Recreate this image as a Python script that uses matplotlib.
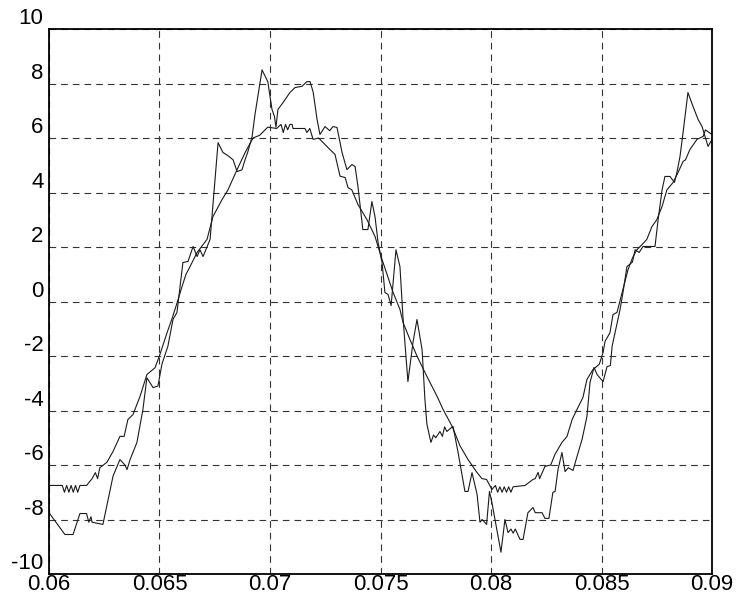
import numpy as np
import matplotlib
matplotlib.use('Agg')
import matplotlib.pyplot as plt

plt.rcParams['font.family'] = ['Liberation Sans', 'DejaVu Sans']

# reference (smoother) waveform
t_ref = [0.0600, 0.0606, 0.0607, 0.0608, 0.0609, 0.0610, 0.0611, 0.0612, 0.0613, 0.0614,
         0.0617, 0.06195, 0.0621, 0.0622, 0.0623, 0.06262, 0.0629, 0.06321, 0.0634, 0.06357,
         0.0638, 0.06412, 0.06443, 0.0648, 0.06502, 0.06534, 0.0656, 0.06584, 0.06602, 0.0662,
         0.06638, 0.0667, 0.06715, 0.06742, 0.06783, 0.0681, 0.06851, 0.06887, 0.06923, 0.06953,
         0.0699, 0.0703, 0.0705, 0.0706, 0.0707, 0.0708, 0.0709, 0.0710, 0.07104, 0.07158,
         0.07167, 0.0718, 0.07195, 0.0722, 0.07271, 0.07294, 0.07317, 0.0734, 0.07353, 0.0737,
         0.07398, 0.07439, 0.07475, 0.07507, 0.07557, 0.07588, 0.07602, 0.07633, 0.07665, 0.0771,
         0.07756, 0.07783, 0.07824, 0.0786, 0.07896, 0.07937, 0.07959, 0.0798, 0.08004, 0.0802,
         0.0803, 0.0804, 0.0805, 0.0806, 0.0807, 0.0808, 0.0809, 0.0810, 0.08154, 0.0819,
         0.0820, 0.08213, 0.0822, 0.08244, 0.0827, 0.0829, 0.08321, 0.08344, 0.08367, 0.08389,
         0.08416, 0.08434, 0.08461, 0.0849, 0.08507, 0.08516, 0.08538, 0.08552, 0.0857, 0.08597,
         0.0862, 0.0864, 0.0866, 0.0868, 0.08705, 0.08728, 0.0875, 0.08774, 0.08796, 0.08824,
         0.08846, 0.08869, 0.0888, 0.0890, 0.08932, 0.0896, 0.0897, 0.0900]
v_ref = [-6.75, -6.75, -7.0, -6.75, -7.0, -6.75, -7.0, -6.75, -7.0, -6.75,
         -6.75, -6.5, -6.28, -6.5, -6.1, -5.9, -5.5, -4.95, -4.95, -4.33,
         -4.15, -3.48, -2.68, -2.43, -1.94, -1.15, -0.55, 0.07, 0.55, 1.0,
         1.28, 1.8, 2.28, 3.12, 3.74, 4.1, 4.84, 5.46, 6.0, 6.1,
         6.4, 6.35, 6.5, 6.2, 6.5, 6.3, 6.5, 6.5, 6.35, 6.35,
         6.2, 6.35, 5.95, 6.0, 5.58, 5.4, 4.6, 4.55, 4.18, 4.1,
         3.56, 3.0, 2.39, 1.54, 0.33, -0.29, -0.77, -1.39, -2.0, -2.75,
         -3.48, -3.96, -4.58, -5.3, -5.8, -6.28, -6.5, -6.53, -6.9, -6.75,
         -7.0, -6.8, -7.0, -6.8, -7.0, -6.8, -7.0, -6.8, -6.75, -6.53,
         -6.5, -6.27, -6.5, -6.05, -6.0, -5.6, -5.17, -4.95, -4.33, -3.96,
         -3.52, -2.86, -2.5, -2.3, -1.87, -1.46, -1.15, -0.48, -0.4, 0.44,
         1.17, 1.6, 1.9, 2.06, 2.28, 2.75, 3.0, 3.49, 4.1, 4.37,
         4.73, 5.14, 5.2, 5.58, 5.95, 6.06, 6.3, 6.13]

# measured (noisy) waveform
t_meas = [0.0600, 0.06072, 0.06109, 0.0614, 0.0617, 0.0618, 0.0619, 0.06195, 0.06244, 0.0629,
          0.06321, 0.06344, 0.06353, 0.06367, 0.06398, 0.06425, 0.06443, 0.06471, 0.06493, 0.06511,
          0.06538, 0.06561, 0.06579, 0.06606, 0.06629, 0.06652, 0.0667, 0.06683, 0.06697, 0.06729,
          0.06765, 0.06787, 0.0681, 0.06833, 0.06851, 0.06873, 0.06887, 0.0690, 0.06919, 0.06932,
          0.06964, 0.0699, 0.07009, 0.0702, 0.07027, 0.07036, 0.07059, 0.0709, 0.07113, 0.07145,
          0.07167, 0.07181, 0.07195, 0.07213, 0.07226, 0.07249, 0.0727, 0.07285, 0.07303, 0.07326,
          0.07348, 0.07371, 0.07385, 0.07398, 0.0742, 0.07443, 0.07461, 0.07475, 0.07489, 0.07507,
          0.0752, 0.07534, 0.07548, 0.0757, 0.07588, 0.07602, 0.07624, 0.07647, 0.07665, 0.07688,
          0.07701, 0.0771, 0.07728, 0.0774, 0.0775, 0.07769, 0.0778, 0.0779, 0.0780, 0.07828,
          0.07851, 0.07882, 0.07896, 0.07914, 0.07937, 0.0795, 0.0796, 0.0798, 0.07993, 0.08004,
          0.08018, 0.08045, 0.08063, 0.08077, 0.0809, 0.0810, 0.0811, 0.08131, 0.08145, 0.08167,
          0.0819, 0.0820, 0.08231, 0.08244, 0.08262, 0.0828, 0.0829, 0.08303, 0.08321, 0.08335,
          0.0835, 0.08371, 0.08389, 0.08412, 0.08434, 0.08448, 0.08466, 0.0848, 0.08507, 0.08525,
          0.0854, 0.08548, 0.08561, 0.08584, 0.08597, 0.08615, 0.0864, 0.08652, 0.0867, 0.08688,
          0.08742, 0.08756, 0.08774, 0.08787, 0.0881, 0.0883, 0.08842, 0.08855, 0.08869, 0.08891,
          0.08914, 0.08937, 0.08955, 0.08982, 0.0900]
v_meas = [-7.75, -8.55, -8.55, -7.78, -7.78, -8.1, -7.9, -8.1, -8.18, -6.4,
          -5.8, -6.0, -6.17, -5.8, -5.17, -3.96, -2.8, -3.16, -3.1, -2.3,
          -1.64, -0.66, -0.4, 1.43, 1.47, 2.02, 1.65, 1.9, 1.65, 2.28,
          5.83, 5.47, 5.35, 5.2, 4.77, 4.83, 5.2, 5.5, 6.05, 6.86,
          8.5, 8.07, 7.05, 6.8, 6.4, 7.05, 7.3, 7.67, 7.85, 7.9,
          8.07, 8.07, 7.7, 6.68, 6.13, 6.42, 6.27, 6.42, 6.39, 5.47,
          4.84, 5.03, 4.95, 4.22, 2.64, 2.64, 3.67, 3.12, 2.17, 1.43,
          0.33, 0.26, -0.15, 1.9, 1.28, -0.62, -2.94, -1.5, -0.66, -1.76,
          -3.6, -4.51, -5.17, -4.9, -5.0, -4.77, -4.95, -4.6, -4.77, -4.58,
          -5.54, -6.97, -6.97, -6.28, -7.08, -8.1, -8.0, -8.18, -6.97, -7.38,
          -8.0, -9.2, -8.0, -8.48, -8.35, -8.5, -8.35, -8.73, -8.73, -7.75,
          -7.56, -7.75, -7.75, -7.96, -7.96, -7.0, -6.97, -6.17, -5.54, -6.24,
          -6.1, -6.2, -5.69, -5.06, -4.22, -2.97, -2.42, -2.68, -2.94, -2.39,
          -2.35, -1.64, -1.15, -0.29, 0.33, 1.28, 1.45, 1.9, 1.8, 2.02,
          2.02, 3.0, 4.1, 4.59, 4.59, 4.37, 4.77, 5.32, 6.2, 7.67,
          7.16, 6.68, 6.42, 5.69, 5.95]

x_ticks = [0.06, 0.065, 0.07, 0.075, 0.08, 0.085, 0.09]
x_labels = ['0.06', '0.065', '0.07', '0.075', '0.08', '0.085', '0.09']
y_ticks = list(range(-10, 11, 2))

fig = plt.figure(figsize=(7.4, 5.96), dpi=100)
ax = fig.add_axes([0.0662, 0.0369, 0.896, 0.9144])

ax.plot(t_ref, v_ref, color='#1a1a1a', linewidth=0.8)
ax.plot(t_meas, v_meas, color='#1a1a1a', linewidth=0.8)

ax.set_xlim(0.06, 0.09)
ax.set_ylim(-10, 10)
ax.set_xticks(x_ticks)
ax.set_xticklabels(x_labels)
ax.set_yticks(y_ticks)
ax.set_yticklabels([str(v) for v in y_ticks], va='bottom')

ax.grid(True, color='#333333', linestyle=(0, (6, 4.5)), linewidth=0.8)
ax.tick_params(length=0, labelsize=16)
ax.tick_params(axis='x', pad=0)
ax.tick_params(axis='y', pad=4)
for s in ax.spines.values():
    s.set_linewidth(1.3)

fig.savefig('out.png', dpi=100)
